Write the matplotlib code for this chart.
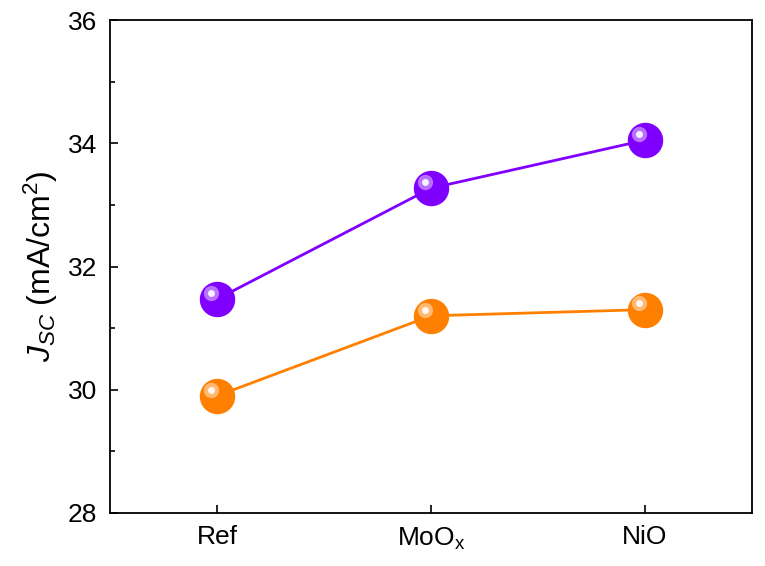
import matplotlib
matplotlib.use("Agg")
import matplotlib.pyplot as plt
import matplotlib.transforms as mtransforms

plt.rcParams["font.family"] = ["Liberation Sans", "DejaVu Sans"]
plt.rcParams["mathtext.fontset"] = "custom"
plt.rcParams["mathtext.rm"] = "Liberation Sans"
plt.rcParams["mathtext.it"] = "Liberation Sans:italic"

# data
categorias = ["Ref", "MoO$_\\mathrm{x}$", "NiO"]
x_pos = [1, 2, 3]
jsc_roxo = [31.47, 33.27, 34.05]
jsc_laranja = [29.90, 31.20, 31.30]

ROXO = "#8000FF"
LARANJA = "#FF8000"

fig = plt.figure(figsize=(7.65, 5.66), dpi=100)
ax = fig.add_axes([110 / 765, 53 / 566, 642 / 765, 493 / 566])


def esfera(ax, x, y, cor):
    ax.plot(x, y, "-", color=cor, lw=2, zorder=2)
    ax.plot(x, y, "o", ms=24.5, color=cor, mec=cor, zorder=3, ls="none")
    # brilho da esfera
    desloc = mtransforms.ScaledTranslation(-4.5 / 72, 4.5 / 72, fig.dpi_scale_trans)
    ax.plot(x, y, "o", ms=11, color="white", alpha=0.45, mec="none",
            transform=ax.transData + desloc, zorder=4, ls="none")
    ax.plot(x, y, "o", ms=5, color="white", alpha=0.9, mec="none",
            transform=ax.transData + desloc, zorder=5, ls="none")


esfera(ax, x_pos, jsc_roxo, ROXO)
esfera(ax, x_pos, jsc_laranja, LARANJA)

ax.set_xlim(0.5, 3.5)
ax.set_ylim(28, 36)
ax.set_xticks(x_pos)
ax.set_xticklabels(categorias)
ax.set_yticks([28, 30, 32, 34, 36])
ax.set_yticks([29, 31, 33, 35], minor=True)
ax.tick_params(axis="both", which="major", direction="in", length=6, width=1.2,
               labelsize=19, pad=9)
ax.tick_params(axis="y", which="minor", direction="in", length=3.5, width=1.2)
ax.tick_params(top=False, right=False)
for s in ax.spines.values():
    s.set_linewidth(1.3)

ax.set_ylabel("$J_{SC}$ (mA/cm$^2$)", fontsize=23, labelpad=6)

plt.savefig("out.png", dpi=100)
